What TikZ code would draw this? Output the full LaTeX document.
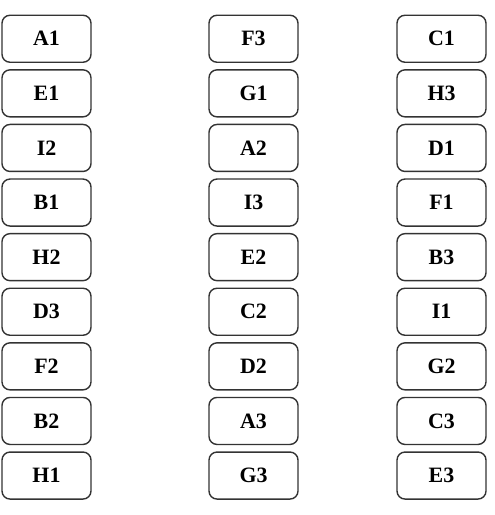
\documentclass[tikz,border=0pt]{standalone}
\usepackage{fontspec}
\setmainfont{Liberation Serif}
\begin{document}
\begin{tikzpicture}[x=1bp,y=-1bp,
  card/.style={draw=black!80, line width=1.4bp, rounded corners=8bp,
    minimum width=89bp, minimum height=47bp, inner sep=0pt,
    font=\fontsize{22}{24}\selectfont\bfseries, text=black}]
\useasboundingbox (0,0) rectangle (495,515);
\foreach \lab [count=\i from 0] in {A1,E1,I2,B1,H2,D3,F2,B2,H1}
  \node[card] (c1-\i) at (46.5,38.75+54.6*\i) {\lab};
\foreach \lab [count=\i from 0] in {F3,G1,A2,I3,E2,C2,D2,A3,G3}
  \node[card] (c2-\i) at (253.5,38.75+54.6*\i) {\lab};
\foreach \lab [count=\i from 0] in {C1,H3,D1,F1,B3,I1,G2,C3,E3}
  \node[card] (c3-\i) at (441.5,38.75+54.6*\i) {\lab};
\end{tikzpicture}
\end{document}
